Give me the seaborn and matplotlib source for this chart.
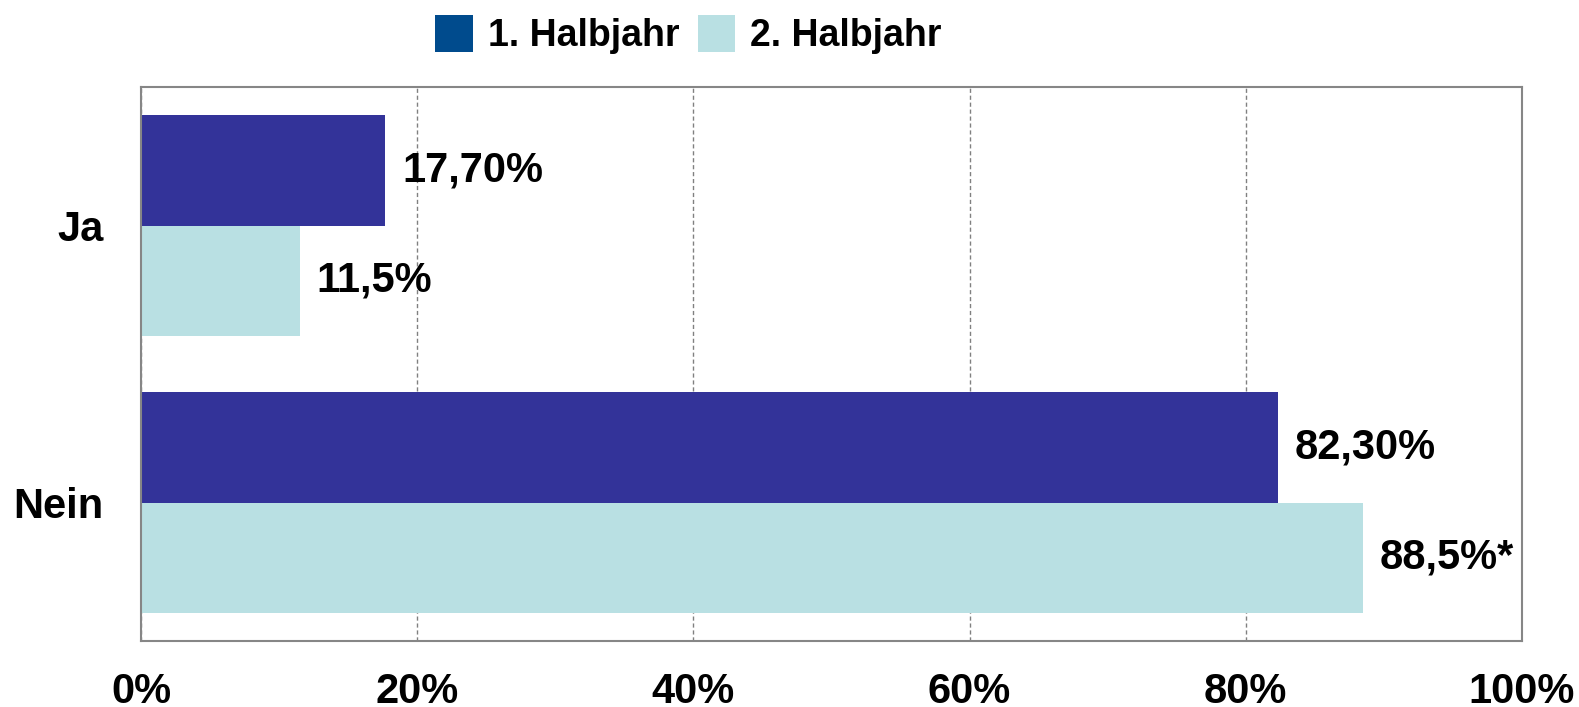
import matplotlib
matplotlib.use("Agg")
import matplotlib.pyplot as plt
from matplotlib.patches import Patch
import seaborn as sns
import pandas as pd

categories = ["Ja", "Nein"]
series_names = ["1. Halbjahr", "2. Halbjahr"]
values_h1 = [17.7, 82.3]
values_h2 = [11.5, 88.5]
labels_h1 = ["17,70%", "82,30%"]
labels_h2 = ["11,5%", "88,5%*"]
x_ticks = [0, 20, 40, 60, 80, 100]
x_tick_labels = ["0%", "20%", "40%", "60%", "80%", "100%"]

bar_colors = ["#333399", "#B9E0E3"]
legend_colors = ["#004B8D", "#B9E0E3"]

sns.set_theme(style="white")
plt.rcParams["font.family"] = ["Liberation Sans", "DejaVu Sans"]
plt.rcParams["font.weight"] = "bold"
plt.rcParams["text.color"] = "black"

df = pd.DataFrame({
    "Kategorie": categories * 2,
    "Halbjahr": [series_names[0]] * len(categories) + [series_names[1]] * len(categories),
    "Wert": values_h1 + values_h2,
})

fig = plt.figure(figsize=(15.79, 7.07), dpi=100)
ax = fig.add_axes([141 / 1579, 1 - 641 / 707, (1522 - 141) / 1579, (641 - 87) / 707])

sns.barplot(data=df, y="Kategorie", x="Wert", hue="Halbjahr", order=categories,
            hue_order=series_names, palette=bar_colors, orient="h", width=0.8,
            saturation=1, linewidth=0, legend=False, ax=ax)

for cont, labs in zip(ax.containers, [labels_h1, labels_h2]):
    ax.bar_label(cont, labels=labs, padding=12, fontsize=30, fontweight="bold", color="black")

ax.set_xlim(0, 100)
ax.set_ylim(1.5, -0.5)
ax.set_xticks(x_ticks)
ax.set_xticklabels(x_tick_labels, fontsize=30, fontweight="bold")
ax.tick_params(axis="x", length=0, pad=22, colors="black")
ax.tick_params(axis="y", length=0, pad=27, labelsize=30, colors="black")
for t in ax.get_yticklabels():
    t.set_fontweight("bold")
ax.set_xlabel("")
ax.set_ylabel("")

ax.xaxis.grid(True, color="#808080", linestyle=(0, (3, 2)), linewidth=1)
ax.yaxis.grid(False)
ax.set_axisbelow(True)
for s in ax.spines.values():
    s.set_visible(True)
    s.set_color("#868686")
    s.set_linewidth(1.5)

handles = [Patch(facecolor=c, edgecolor="none") for c in legend_colors]
fig.legend(handles, series_names, loc="upper left",
           bbox_to_anchor=(405 / 1579, 1 + 15 / 707), ncol=2, frameon=False,
           prop={"family": "Liberation Sans", "weight": "bold", "size": 27},
           labelcolor="black",
           handlelength=1.0, handleheight=1.15, handletextpad=0.4,
           columnspacing=0.5, borderpad=0.3)

fig.savefig("out.png", dpi=100)
